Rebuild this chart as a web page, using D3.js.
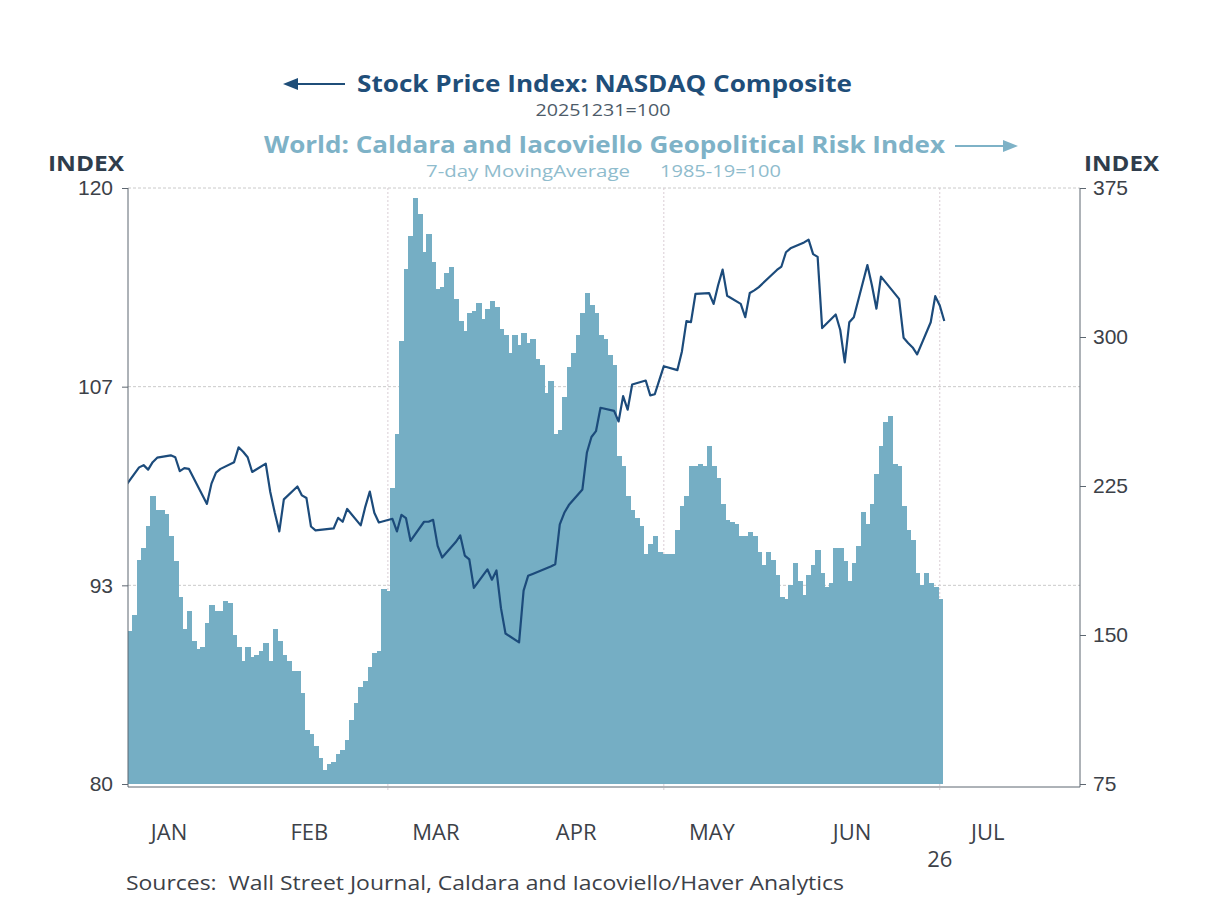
<!DOCTYPE html>
<html>
<head>
<meta charset="utf-8">
<script src="https://cdn.jsdelivr.net/npm/d3@7"></script>
<style>
  body { margin: 0; background: #fff; }
  svg { display: block; font-family: "Open Sans", "Noto Sans", sans-serif; }
</style>
</head>
<body>
<div id="chart"></div>
<script>
// GEOPOLITICAL RISK, 7-DAY MOVING AVERAGE (daily, right axis)
const gprFirstDay = [3, 1, 1, 1, 1, 1, 1];
const gprJan = [152,160,188,194,205,220,213,213,211,200,187,169,153,162,147,143,144,156,165,162,162,167,166,150,144,137,144,139,140];
const gprFeb = [142,146,137,153,147,140,137,132,132,121,102,100,94,88,82,85,86,90,92,97,107,116,124,127,134,141,142,173];
const gprMar = [172,224,251,298,334,351,370,362,343,352,338,324,325,332,335,319,308,303,312,313,317,309,314,318,315,304,301,292,301,296,302];
const gprApr = [297,299,289,286,272,278,251,253,270,285,292,301,312,322,316,312,301,299,291,286,240,235,220,213,209,205,191,196,200,192];
const gprMay = [191,191,191,203,215,220,235,235,236,235,245,235,229,216,208,207,206,200,200,202,200,192,185,192,188,180,169,168,175,186,177];
const gprJun = [170,180,185,193,181,174,176,194,194,187,177,186,195,212,206,216,231,245,257,260,236,235,215,203,198,181,175,181,176,174];
const gprJul = [168];

// NASDAQ COMPOSITE, 20251231=100 (trading days, left axis): [day, value]
const nasdaqJan = [[2,100.0],[5,101.25],[6,101.4],[7,101.1],[8,101.6],[9,101.9],[12,102.06],[13,101.93],[14,101.0],[15,101.2],[16,101.15],[20,98.8],[21,100.16],[22,100.9],[23,101.15],[26,101.6],[27,102.6],[28,102.3],[29,101.93],[30,100.94]];
const nasdaqFeb = [[2,101.5],[3,99.6],[4,98.2],[5,96.95],[6,99.1],[9,99.97],[10,99.37],[11,99.19],[12,97.28],[13,97.02],[17,97.15],[18,97.86],[19,97.6],[20,98.46],[23,97.36],[24,98.6],[25,99.63],[26,98.2],[27,97.55]];
const nasdaqMar = [[2,97.8],[3,96.95],[4,98.07],[5,97.84],[6,96.32],[9,97.6],[10,97.6],[11,97.73],[12,95.98],[13,95.2],[16,96.24],[17,96.68],[18,95.33],[19,95.07],[20,93.16],[23,94.41],[24,93.71],[25,94.33],[26,91.8],[27,90.1],[30,89.5],[31,92.98]];
const nasdaqApr = [[1,93.97],[2,94.1],[6,94.6],[7,94.75],[8,97.42],[9,98.2],[10,98.72],[13,99.77],[14,102.25],[15,103.29],[16,103.68],[17,105.25],[20,105.04],[21,104.33],[22,106.03],[23,105.12],[24,106.81],[27,107.08],[28,106.08],[29,106.16],[30,107.1]];
const nasdaqMay = [[1,108.04],[4,107.78],[5,109.03],[6,111.07],[7,111.0],[8,112.9],[11,112.95],[12,112.22],[13,113.47],[14,114.52],[15,112.77],[18,112.22],[19,111.33],[20,112.95],[21,113.13],[22,113.35],[26,114.5],[27,114.73],[28,115.69],[29,115.95]];
const nasdaqJun = [[1,116.35],[2,116.53],[3,115.56],[4,115.38],[5,110.6],[8,111.51],[9,110.47],[10,108.3],[11,110.99],[12,111.33],[15,114.83],[16,113.47],[17,111.9],[18,114.05],[22,112.56],[23,109.95],[24,109.6],[25,109.3],[26,108.83],[29,110.99],[30,112.74]];
const nasdaqJul = [[1,112.11],[2,111.07]];

// AXES
const leftTicks = [80, 93.333, 106.667, 120];
const leftTickLabels = ["80", "93", "107", "120"];
const rightTicks = [75, 150, 225, 300, 375];
const monthLabels = ["JAN", "FEB", "MAR", "APR", "MAY", "JUN", "JUL"];
const gridMonths = [2, 4, 6];   // Mar, May, Jul
const yearLabel = "26";

const width = 1208;
const height = 906;
const plot = { left: 128, right: 1080, top: 188, bottom: 784 };

const barColor = "#75aec4";
const lineColor = "#1c4b7b";
const textColor = "#3c4148";
const axisColor = "#5d6670";

const gpr = [gprJan, gprFeb, gprMar, gprApr, gprMay, gprJun, gprJul]
  .flatMap((vals, m) => vals.map((v, i) => ({ date: new Date(2026, m, gprFirstDay[m] + i), value: v })));
const nasdaq = [nasdaqJan, nasdaqFeb, nasdaqMar, nasdaqApr, nasdaqMay, nasdaqJun, nasdaqJul]
  .flatMap((pts, m) => pts.map(([d, v]) => ({ date: new Date(2026, m, d), value: v })));

const x = d3.scaleTime()
  .domain([new Date(2026, 0, 2, 13, 10), new Date(2026, 7, 1)])
  .range([plot.left, plot.right]);
const yLeft = d3.scaleLinear().domain([80, 120]).range([plot.bottom, plot.top]);
const yRight = d3.scaleLinear().domain([75, 375]).range([plot.bottom, plot.top]);

const svg = d3.select("#chart")
  .append("svg")
  .attr("width", width)
  .attr("height", height);

svg.append("clipPath")
  .attr("id", "plotClip")
  .append("rect")
  .attr("x", plot.left)
  .attr("y", plot.top - 10)
  .attr("width", plot.right - plot.left)
  .attr("height", plot.bottom - plot.top + 12);

// GRIDLINES
svg.append("g")
  .selectAll("line")
  .data(leftTicks.slice(1))
  .join("line")
  .attr("x1", plot.left)
  .attr("x2", plot.right)
  .attr("y1", d => yLeft(d))
  .attr("y2", d => yLeft(d))
  .attr("stroke", "#cacaca")
  .attr("stroke-width", 1)
  .attr("stroke-dasharray", "3,2");

svg.append("g")
  .selectAll("line")
  .data(gridMonths)
  .join("line")
  .attr("x1", m => x(new Date(2026, m, 1)))
  .attr("x2", m => x(new Date(2026, m, 1)))
  .attr("y1", plot.top)
  .attr("y2", plot.bottom + 8)
  .attr("stroke", "#d9cdd4")
  .attr("stroke-width", 1)
  .attr("stroke-dasharray", "2,2");

// BARS (right axis)
svg.append("g")
  .attr("clip-path", "url(#plotClip)")
  .attr("shape-rendering", "crispEdges")
  .selectAll("rect")
  .data(gpr)
  .join("rect")
  .attr("x", d => x(d3.timeHour.offset(d.date, -12)))
  .attr("width", d => x(d3.timeHour.offset(d.date, 12)) - x(d3.timeHour.offset(d.date, -12)) + 1)
  .attr("y", d => yRight(d.value))
  .attr("height", d => yRight(75) - yRight(d.value))
  .attr("fill", barColor);

// LINE (left axis)
const line = d3.line()
  .x(d => x(d.date))
  .y(d => yLeft(d.value));

svg.append("path")
  .datum(nasdaq)
  .attr("clip-path", "url(#plotClip)")
  .attr("d", line)
  .attr("fill", "none")
  .attr("stroke", lineColor)
  .attr("stroke-width", 2.2)
  .attr("stroke-linejoin", "round");

// AXES
const leftAxis = svg.append("g")
  .attr("transform", `translate(${plot.left},0)`)
  .call(d3.axisLeft(yLeft)
    .tickValues(leftTicks)
    .tickFormat((d, i) => leftTickLabels[i])
    .tickSize(6)
    .tickSizeOuter(0)
    .tickPadding(9));

const rightAxis = svg.append("g")
  .attr("transform", `translate(${plot.right},0)`)
  .call(d3.axisRight(yRight)
    .tickValues(rightTicks)
    .tickSize(6)
    .tickSizeOuter(0)
    .tickPadding(7));

[leftAxis, rightAxis].forEach(axis => {
  axis.select(".domain").remove();
  axis.selectAll(".tick line").attr("stroke", axisColor);
  axis.selectAll(".tick text")
    .attr("fill", textColor)
    .style("font-size", "21px");
});

svg.append("line")
  .attr("x1", plot.left).attr("x2", plot.left)
  .attr("y1", plot.top).attr("y2", plot.bottom + 3)
  .attr("stroke", axisColor);
svg.append("line")
  .attr("x1", plot.right).attr("x2", plot.right)
  .attr("y1", plot.top).attr("y2", plot.bottom + 3)
  .attr("stroke", axisColor);
svg.append("line")
  .attr("x1", plot.left).attr("x2", plot.right)
  .attr("y1", plot.bottom + 3).attr("y2", plot.bottom + 3)
  .attr("stroke", axisColor);

// MONTH LABELS
svg.append("g")
  .selectAll("text")
  .data(monthLabels)
  .join("text")
  .attr("x", (d, m) => x(d3.timeHour.offset(new Date(2026, m, 1), 255)))
  .attr("y", 840)
  .attr("text-anchor", "middle")
  .attr("fill", textColor)
  .style("font-size", "22px")
  .text(d => d);

svg.append("text")
  .attr("x", x(new Date(2026, 6, 1)))
  .attr("y", 867)
  .attr("text-anchor", "middle")
  .attr("fill", textColor)
  .style("font-size", "22px")
  .text(yearLabel);

// UNIT LABELS
svg.append("text")
  .attr("x", 48).attr("y", 171)
  .attr("textLength", 76).attr("lengthAdjust", "spacingAndGlyphs")
  .attr("fill", "#2f3d4c")
  .style("font-size", "22px").style("font-weight", "700")
  .text("INDEX");
svg.append("text")
  .attr("x", 1084).attr("y", 171)
  .attr("textLength", 75).attr("lengthAdjust", "spacingAndGlyphs")
  .attr("fill", "#2f3d4c")
  .style("font-size", "22px").style("font-weight", "700")
  .text("INDEX");

// TITLES
svg.append("text")
  .attr("x", 357).attr("y", 92)
  .attr("textLength", 495).attr("lengthAdjust", "spacingAndGlyphs")
  .attr("fill", "#1f4e79")
  .style("font-size", "23px").style("font-weight", "700")
  .text("Stock Price Index: NASDAQ Composite");

svg.append("line")
  .attr("x1", 293).attr("x2", 345).attr("y1", 84).attr("y2", 84)
  .attr("stroke", "#1f4e79").attr("stroke-width", 2);
svg.append("path")
  .attr("d", "M283,84 L298,78 L298,90 Z")
  .attr("fill", "#1f4e79");

svg.append("text")
  .attr("x", 603).attr("y", 116)
  .attr("text-anchor", "middle")
  .attr("textLength", 135).attr("lengthAdjust", "spacingAndGlyphs")
  .attr("fill", "#4d5b69")
  .style("font-size", "17px")
  .text("20251231=100");

svg.append("text")
  .attr("x", 264).attr("y", 153)
  .attr("textLength", 681).attr("lengthAdjust", "spacingAndGlyphs")
  .attr("fill", "#7eb2c7")
  .style("font-size", "23px").style("font-weight", "700")
  .text("World: Caldara and Iacoviello Geopolitical Risk Index");

svg.append("line")
  .attr("x1", 955).attr("x2", 1008).attr("y1", 146).attr("y2", 146)
  .attr("stroke", "#7eb2c7").attr("stroke-width", 2);
svg.append("path")
  .attr("d", "M1018,146 L1003,140 L1003,152 Z")
  .attr("fill", "#7eb2c7");

svg.append("text")
  .attr("x", 426).attr("y", 177)
  .attr("textLength", 204).attr("lengthAdjust", "spacingAndGlyphs")
  .attr("fill", "#8fbccd")
  .style("font-size", "17px")
  .text("7-day MovingAverage");
svg.append("text")
  .attr("x", 660).attr("y", 177)
  .attr("textLength", 121).attr("lengthAdjust", "spacingAndGlyphs")
  .attr("fill", "#8fbccd")
  .style("font-size", "17px")
  .text("1985-19=100");

// SOURCE
svg.append("text")
  .attr("x", 126).attr("y", 890)
  .attr("textLength", 718).attr("lengthAdjust", "spacingAndGlyphs")
  .attr("fill", textColor)
  .style("font-size", "20px")
  .text("Sources:\u00a0 Wall Street Journal, Caldara and Iacoviello/Haver Analytics");
</script>
</body>
</html>
